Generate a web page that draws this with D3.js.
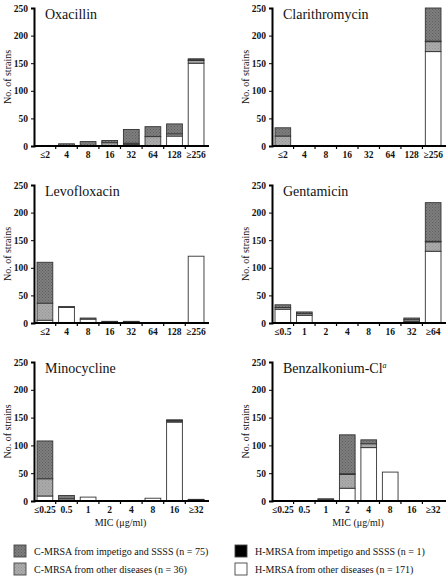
<!DOCTYPE html>
<html><head><meta charset="utf-8">
<script src="https://cdn.jsdelivr.net/npm/d3@7"></script>
<style>
html,body{margin:0;padding:0;background:#fff;}
svg text{font-family:"Liberation Serif","DejaVu Serif",serif;fill:#111;}
</style></head>
<body><svg id="chart" width="448" height="578"></svg>
<script>
// ---- data ----
const groupNames = ["C-MRSA from impetigo and SSSS (n = 75)", "C-MRSA from other diseases (n = 36)",
  "H-MRSA from impetigo and SSSS (n = 1)", "H-MRSA from other diseases (n = 171)"];
const yTicks = [0, 50, 100, 150, 200, 250];

const oxaCats = ["≤2","4","8","16","32","64","128","≥256"];
const oxaHOther = [0,0,0,0,3,0,18,150];
const oxaCOther = [0,0,1,6,2,17,4,5];
const oxaHImp   = [0,0,0,0,0,0,0,1];
const oxaCImp   = [0,4,7,4,25,18,18,2];

const claCats = ["≤2","4","8","16","32","64","128","≥256"];
const claHOther = [0,0,0,0,0,0,0,171];
const claCOther = [18,0,0,0,0,0,0,18];
const claHImp   = [0,0,0,0,0,0,0,1];
const claCImp   = [15,0,0,0,0,0,0,60];

const levCats = ["≤2","4","8","16","32","64","128","≥256"];
const levHOther = [5,28,7,0,2,0,0,121];
const levCOther = [31,2,2,2,1,0,0,0];
const levHImp   = [0,0,0,0,0,0,0,0];
const levCImp   = [74,0,0,1,0,0,0,0];

const genCats = ["≤0.5","1","2","4","8","16","32","≥64"];
const genHOther = [25,14,0,0,0,0,3,130];
const genCOther = [3,3,0,0,0,0,3,17];
const genHImp   = [0,0,0,0,0,0,0,1];
const genCImp   = [5,3,0,0,0,0,3,70];

const minCats = ["≤0.25","0.5","1","2","4","8","16","≥32"];
const minHOther = [9,0,7,0,0,5,142,2];
const minCOther = [31,4,0,0,0,0,2,1];
const minHImp   = [0,0,0,0,0,0,1,0];
const minCImp   = [68,6,0,0,0,0,1,0];

const benCats = ["≤0.25","0.5","1","2","4","8","16","≥32"];
const benHOther = [0,0,0,23,96,52,0,0];
const benCOther = [0,0,2,25,7,0,0,0];
const benHImp   = [0,0,0,1,0,0,0,0];
const benCImp   = [0,0,2,70,7,0,0,0];

// stacking order bottom -> top
const stackKeys = ["hOther","cOther","hImp","cImp"];
const fills = {cImp:"url(#darkPat)", cOther:"url(#lightPat)", hImp:"#000", hOther:"#fff"};

const panels = [
  {title:"Oxacillin", cats:oxaCats, s:{hOther:oxaHOther,cOther:oxaCOther,hImp:oxaHImp,cImp:oxaCImp}, col:0,row:0},
  {title:"Clarithromycin", cats:claCats, s:{hOther:claHOther,cOther:claCOther,hImp:claHImp,cImp:claCImp}, col:1,row:0},
  {title:"Levofloxacin", cats:levCats, s:{hOther:levHOther,cOther:levCOther,hImp:levHImp,cImp:levCImp}, col:0,row:1},
  {title:"Gentamicin", cats:genCats, s:{hOther:genHOther,cOther:genCOther,hImp:genHImp,cImp:genCImp}, col:1,row:1},
  {title:"Minocycline", cats:minCats, s:{hOther:minHOther,cOther:minCOther,hImp:minHImp,cImp:minCImp}, col:0,row:2, mic:true},
  {title:"Benzalkonium-Cl", sup:"a", cats:benCats, s:{hOther:benHOther,cOther:benCOther,hImp:benHImp,cImp:benCImp}, col:1,row:2, mic:true}
];

const svg = d3.select("#chart");
const defs = svg.append("defs");
function pat(id, base, dot){
  const p = defs.append("pattern").attr("id",id).attr("width",3).attr("height",3).attr("patternUnits","userSpaceOnUse");
  p.append("rect").attr("width",3).attr("height",3).attr("fill",base);
  p.append("rect").attr("x",0).attr("y",0).attr("width",1).attr("height",1).attr("fill",dot);
  p.append("rect").attr("x",1.5).attr("y",1.5).attr("width",1).attr("height",1).attr("fill",dot);
}
pat("darkPat","#7e7e7e","#5e5e5e");
pat("lightPat","#ababab","#949494");

const colX = [[34,207],[272,444]];
const rowY = [[8,146],[185,323],[362,501]];

panels.forEach(p=>{
  const [x0,x1] = colX[p.col];
  const [yt,yb] = rowY[p.row];
  const g = svg.append("g");
  const x = d3.scaleBand().domain(p.cats).range([x0,x1]).paddingInner(0.27).paddingOuter(0.14);
  const y = d3.scaleLinear().domain([0,250]).range([yb,yt]);

  const rows = p.cats.map((c,i)=>{const o={cat:c}; stackKeys.forEach(k=>o[k]=p.s[k][i]); return o;});
  const stacked = d3.stack().keys(stackKeys)(rows);
  stacked.forEach(layer=>{
    g.selectAll(null).data(layer.filter(d=>d[1]-d[0]>0)).enter().append("rect")
      .attr("x",d=>x(d.data.cat)).attr("width",x.bandwidth())
      .attr("y",d=>y(d[1])).attr("height",d=>y(d[0])-y(d[1]))
      .attr("fill",fills[layer.key]).attr("stroke","#333").attr("stroke-width",0.9);
  });

  // y axis
  const ya = d3.axisLeft(y).tickValues(yTicks).tickSize(3).tickPadding(3);
  const yg = g.append("g").attr("transform",`translate(${x0},0)`).call(ya);
  yg.select(".domain").attr("stroke","#000").attr("stroke-width",2);
  yg.selectAll(".tick line").attr("stroke","#000");
  yg.selectAll("text").attr("font-size",9.5).attr("font-weight","bold").attr("fill","#222")
    .style("font-family","'Liberation Serif',serif");

  // x axis
  const xa = d3.axisBottom(x).tickSize(0).tickPadding(5);
  const xg = g.append("g").attr("transform",`translate(0,${yb})`).call(xa);
  xg.select(".domain").attr("stroke","#000").attr("stroke-width",2).attr("d",`M${x0},0H${x1+2}`);
  xg.selectAll("text").attr("font-size",9.5).attr("font-weight","bold").attr("fill","#222")
    .style("font-family","'Liberation Serif',serif");
  // band boundary ticks
  const step = x.step();
  const bounds = d3.range(1,p.cats.length).map(i=>x(p.cats[i]) - (step - x.bandwidth())/2);
  g.selectAll(null).data(bounds).enter().append("line")
    .attr("x1",d=>d).attr("x2",d=>d).attr("y1",yb).attr("y2",yb+3)
    .attr("stroke","#000").attr("stroke-width",1.2);

  // y label
  g.append("text").attr("transform",`translate(${x0-27},${(yt+yb)/2}) rotate(-90)`)
    .attr("text-anchor","middle").attr("dominant-baseline","central")
    .attr("font-size",10).text("No. of strains");

  // title
  const t = g.append("text").attr("x",x0+11).attr("y",yt+10.5).attr("font-size",14).text(p.title);
  if(p.sup) t.append("tspan").attr("font-size",8).attr("font-style","italic").attr("dy",-5).text(p.sup);

  if(p.mic){
    g.append("text").attr("x",(x0+x1)/2).attr("y",yb+25).attr("text-anchor","middle")
      .attr("font-size",10).text("MIC (μg/ml)");
  }
});

// legend
const legendItems = [
  {name:groupNames[0], fill:"url(#darkPat)", x:14, y:551},
  {name:groupNames[1], fill:"url(#lightPat)", x:14, y:569},
  {name:groupNames[2], fill:"#000", x:235, y:551},
  {name:groupNames[3], fill:"#fff", x:235, y:569}
];
const lg = svg.append("g");
legendItems.forEach(it=>{
  lg.append("rect").attr("x",it.x).attr("y",it.y-6).attr("width",12).attr("height",12)
    .attr("fill",it.fill).attr("stroke","#444").attr("stroke-width",0.9);
  lg.append("text").attr("x",it.x+20).attr("y",it.y).attr("dominant-baseline","central")
    .attr("font-size",10).text(it.name);
});
</script></body></html>
